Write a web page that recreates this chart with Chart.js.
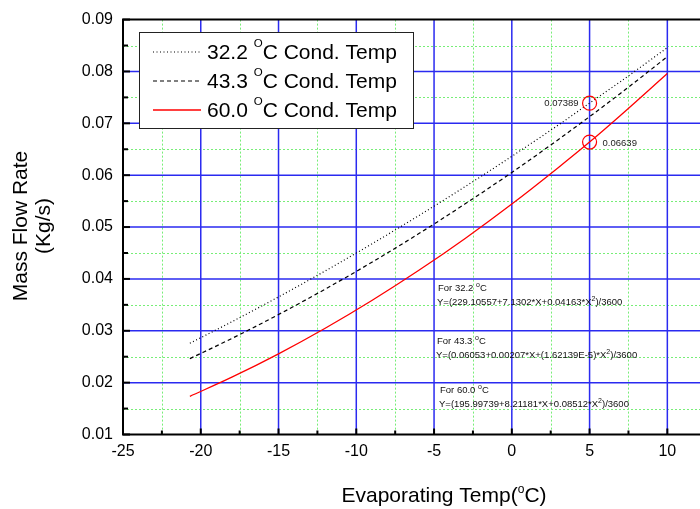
<!DOCTYPE html>
<html>
<head>
<meta charset="utf-8">
<script src="https://cdn.jsdelivr.net/npm/chart.js@4"></script>
<style>
  html, body { margin: 0; padding: 0; background: #fff; }
  canvas { display: block; }
</style>
</head>
<body>
<canvas id="chart" width="700" height="509"></canvas>
<script>
// Values
const evapTemp = [-20.7, -18, -15, -12, -9, -6, -3, 0, 3, 5, 7, 10];
const flow322 = [0.02760, 0.03174, 0.03653, 0.04154, 0.04675, 0.05217, 0.05780, 0.06364, 0.06969, 0.07389, 0.07807, 0.08460];
const flow433 = [0.02463, 0.02852, 0.03313, 0.03803, 0.04321, 0.04869, 0.05447, 0.06053, 0.06689, 0.07129, 0.07581, 0.08285];
const flow600 = [0.01736, 0.02105, 0.02555, 0.03048, 0.03583, 0.04161, 0.04781, 0.05444, 0.06150, 0.06639, 0.07157, 0.07962];

const condTemps = ['32.2', '43.3', '60.0'];
const xTicks = [-25, -20, -15, -10, -5, 0, 5, 10];
const yTicks = [0.01, 0.02, 0.03, 0.04, 0.05, 0.06, 0.07, 0.08, 0.09];

// circled points at 5 degC
const markX = [5, 5];
const markY = [0.07389, 0.06639];
const markLabels = ['0.07389', '0.06639'];

// fitted equations written on the plot
const eqTitles = ['For 32.2 ', 'For 43.3 ', 'For 60.0 '];
const eqBodies = [
  '229.10557+7.1302*X+0.04163*X',
  '0.06053+0.00207*X+(1.62139E-5)*X',
  '195.99739+8.21181*X+0.08512*X'
];

const FONT = '"Liberation Sans", Arial, Helvetica, sans-serif';

function pts(ys) {
  return evapTemp.map((x, i) => ({ x: x, y: ys[i] }));
}

// draws a run of [text, superscript?] pieces starting at x
function drawRich(ctx, parts, x, y, size, supSize, rise) {
  ctx.textAlign = 'left';
  ctx.textBaseline = 'alphabetic';
  let cx = x;
  parts.forEach(p => {
    const sup = p[1];
    ctx.font = (sup ? supSize : size) + 'px ' + FONT;
    ctx.fillText(p[0], cx, sup ? y - rise : y);
    cx += ctx.measureText(p[0]).width;
  });
  return cx - x;
}

function richWidth(ctx, parts, size, supSize) {
  let w = 0;
  parts.forEach(p => {
    ctx.font = (p[1] ? supSize : size) + 'px ' + FONT;
    w += ctx.measureText(p[0]).width;
  });
  return w;
}

const decorations = {
  id: 'decorations',
  beforeDatasetsDraw(chart) {
    const { ctx, chartArea: a, scales: { x, y } } = chart;
    ctx.save();

    // minor grid, green dotted
    ctx.strokeStyle = '#77ee77';
    ctx.lineWidth = 1;
    ctx.setLineDash([2, 2]);
    xTicks.forEach(v => {
      const px = Math.round(x.getPixelForValue(v + 2.5)) + 0.5;
      if (px > a.right) return;
      ctx.beginPath(); ctx.moveTo(px, a.top); ctx.lineTo(px, a.bottom); ctx.stroke();
    });
    yTicks.slice(0, -1).forEach(v => {
      const py = Math.round(y.getPixelForValue(v + 0.005)) + 0.5;
      ctx.beginPath(); ctx.moveTo(a.left, py); ctx.lineTo(a.right, py); ctx.stroke();
    });

    // major grid, blue
    ctx.setLineDash([]);
    ctx.strokeStyle = '#2a2af0';
    ctx.lineWidth = 1.5;
    xTicks.slice(1).forEach(v => {
      const px = x.getPixelForValue(v);
      ctx.beginPath(); ctx.moveTo(px, a.top); ctx.lineTo(px, a.bottom); ctx.stroke();
    });
    yTicks.slice(1, -1).forEach(v => {
      const py = y.getPixelForValue(v);
      ctx.beginPath(); ctx.moveTo(a.left, py); ctx.lineTo(a.right, py); ctx.stroke();
    });
    ctx.restore();
  },
  afterDatasetsDraw(chart) {
    const { ctx, chartArea: a, scales: { x, y } } = chart;
    ctx.save();

    // axis frame
    ctx.strokeStyle = '#000';
    ctx.lineWidth = 2;
    ctx.beginPath();
    ctx.moveTo(a.right, a.top); ctx.lineTo(a.left, a.top);
    ctx.lineTo(a.left, a.bottom); ctx.lineTo(a.right, a.bottom);
    ctx.stroke();

    // inward tick marks
    xTicks.forEach(v => {
      const px = x.getPixelForValue(v);
      ctx.beginPath(); ctx.moveTo(px, a.bottom); ctx.lineTo(px, a.bottom - 6); ctx.stroke();
      const mx = x.getPixelForValue(v + 2.5);
      if (mx < a.right) {
        ctx.beginPath(); ctx.moveTo(mx, a.bottom); ctx.lineTo(mx, a.bottom - 4); ctx.stroke();
      }
    });
    yTicks.forEach(v => {
      const py = y.getPixelForValue(v);
      ctx.beginPath(); ctx.moveTo(a.left, py); ctx.lineTo(a.left + 7, py); ctx.stroke();
      if (v < 0.09) {
        const my = y.getPixelForValue(v + 0.005);
        ctx.beginPath(); ctx.moveTo(a.left, my); ctx.lineTo(a.left + 5, my); ctx.stroke();
      }
    });

    // legend box
    ctx.fillStyle = '#fff';
    ctx.fillRect(139.5, 32.5, 274, 96);
    ctx.strokeStyle = '#222';
    ctx.lineWidth = 1;
    ctx.strokeRect(139.5, 32.5, 274, 96);
    const rowY = [52, 81, 110];
    chart.data.datasets.forEach((ds, i) => {
      ctx.strokeStyle = ds.borderColor;
      ctx.lineWidth = ds.borderWidth;
      ctx.setLineDash(ds.borderDash || []);
      ctx.beginPath(); ctx.moveTo(153, rowY[i]); ctx.lineTo(201, rowY[i]); ctx.stroke();
      ctx.setLineDash([]);
      ctx.fillStyle = '#000';
      drawRich(ctx, [[condTemps[i] + ' ', false], ['O', true], ['C Cond. Temp', false]],
        207, rowY[i] + 7, 21, 11.5, 12);
    });

    // circled values
    ctx.strokeStyle = '#ff0000';
    ctx.lineWidth = 1.2;
    ctx.fillStyle = '#222';
    ctx.font = '9.5px ' + FONT;
    ctx.textBaseline = 'middle';
    markX.forEach((mx, i) => {
      const px = x.getPixelForValue(mx);
      const py = y.getPixelForValue(markY[i]);
      ctx.beginPath(); ctx.arc(px, py, 7, 0, Math.PI * 2); ctx.stroke();
      if (i === 0) {
        ctx.textAlign = 'right';
        ctx.fillText(markLabels[i], px - 11, py);
      } else {
        ctx.textAlign = 'left';
        ctx.fillText(markLabels[i], px + 13, py + 1);
      }
    });

    // equations
    ctx.fillStyle = '#111';
    const eqX = [438, 437, 440];
    const eqY = [291, 344, 393];
    eqTitles.forEach((t, i) => {
      drawRich(ctx, [[t, false], ['o', true], ['C', false]], eqX[i], eqY[i], 9.5, 7, 4);
      drawRich(ctx, [['Y=(' + eqBodies[i], false], ['2', true], [')/3600', false]],
        eqX[i] - 1, eqY[i] + 14, 9.5, 7, 4);
    });

    // axis titles
    ctx.fillStyle = '#000';
    const xt = [['Evaporating Temp(', false], ['o', true], ['C)', false]];
    const w = richWidth(ctx, xt, 21, 12);
    drawRich(ctx, xt, 444 - w / 2, 502, 21, 12, 9.5);

    ctx.save();
    ctx.translate(21, 226);
    ctx.rotate(-Math.PI / 2);
    ctx.font = '21px ' + FONT;
    ctx.textAlign = 'center';
    ctx.textBaseline = 'middle';
    ctx.fillText('Mass Flow Rate', 0, 0);
    ctx.fillText('(Kg/s)', 0, 23);
    ctx.restore();

    ctx.restore();
  }
};

const ctx = document.getElementById('chart').getContext('2d');
new Chart(ctx, {
  type: 'line',
  data: {
    datasets: [
      {
        label: '32.2 °C Cond. Temp',
        data: pts(flow322),
        borderColor: '#000',
        borderWidth: 1.2,
        borderDash: [1, 2.5]
      },
      {
        label: '43.3 °C Cond. Temp',
        data: pts(flow433),
        borderColor: '#000',
        borderWidth: 1.2,
        borderDash: [4, 3]
      },
      {
        label: '60.0 °C Cond. Temp',
        data: pts(flow600),
        borderColor: '#ff0000',
        borderWidth: 1.3
      }
    ]
  },
  options: {
    responsive: false,
    animation: false,
    events: [],
    layout: { padding: { top: 14.5, right: 0, left: 0, bottom: 0 } },
    elements: {
      point: { radius: 0 },
      line: { cubicInterpolationMode: 'monotone', fill: false }
    },
    plugins: {
      legend: { display: false },
      tooltip: { enabled: false }
    },
    scales: {
      x: {
        type: 'linear',
        min: -25,
        max: 12.1,
        grid: { display: false, drawTicks: false },
        border: { display: false },
        afterBuildTicks: s => { s.ticks = xTicks.map(v => ({ value: v })); },
        afterFit: s => { s.height = 74.5; },
        ticks: {
          autoSkip: false,
          maxRotation: 0,
          padding: 7,
          color: '#000',
          font: { family: FONT, size: 16 }
        }
      },
      y: {
        type: 'linear',
        min: 0.01,
        max: 0.09,
        grid: { display: false, drawTicks: false },
        border: { display: false },
        afterBuildTicks: s => { s.ticks = yTicks.map(v => ({ value: v })); },
        afterFit: s => { s.width = 123; },
        ticks: {
          autoSkip: false,
          padding: 10,
          color: '#000',
          font: { family: FONT, size: 16 },
          callback: v => v.toFixed(2)
        }
      }
    }
  },
  plugins: [decorations]
});
</script>
</body>
</html>
